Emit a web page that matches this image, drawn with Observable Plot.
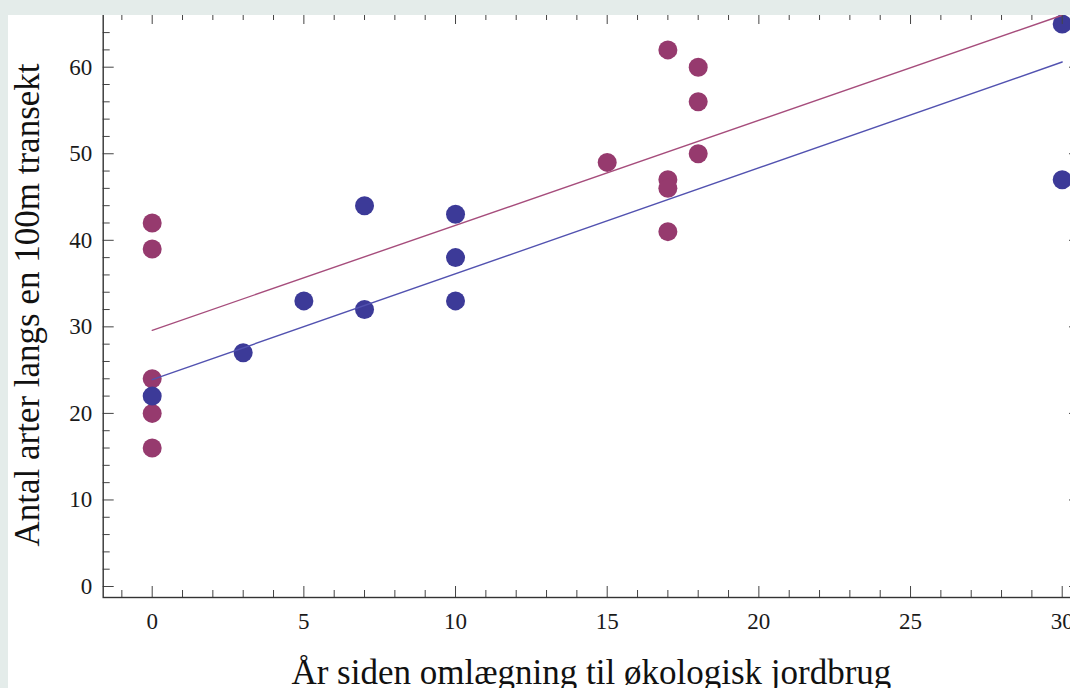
<!DOCTYPE html>
<html>
<head>
<meta charset="utf-8">
<script src="https://cdn.jsdelivr.net/npm/d3@7"></script>
<script src="https://cdn.jsdelivr.net/npm/@observablehq/plot@0.6"></script>
<style>
html, body { margin: 0; padding: 0; background: #e4ecea; overflow: hidden; width: 1070px; height: 688px; }
#wrap { position: relative; width: 1070px; height: 688px; overflow: hidden; }
#white { position: absolute; left: 8px; top: 15px; right: 0; bottom: 0; background: #fff; }
#chart { position: absolute; left: 0; top: 0; }
#bandTop { position: absolute; left: 0; top: 0; width: 1070px; height: 15px; background: #e4ecea; }
</style>
</head>
<body>
<div id="wrap"><div id="white"></div><div id="chart"></div><div id="bandTop"></div></div>
<script>
// Data
const blueYears   = [0, 3, 5, 7, 7, 10, 10, 10, 30, 30];
const blueSpecies = [22, 27, 33, 44, 32, 43, 38, 33, 65, 47];
const redYears    = [0, 0, 0, 0, 0, 15, 17, 17, 17, 17, 18, 18, 18];
const redSpecies  = [42, 39, 24, 20, 16, 49, 62, 47, 46, 41, 60, 56, 50];
const blueLineYears = [0, 30];
const blueLineSpecies = [23.9, 60.6];
const redLineYears = [0, 30];
const redLineSpecies = [29.6, 66.0];
const xMajor = [0, 5, 10, 15, 20, 25, 30];
const yMajor = [0, 10, 20, 30, 40, 50, 60];
const xMinor = d3.range(-1, 32).filter(v => v % 5 !== 0);
const yMinor = d3.range(2, 66, 2).filter(v => v % 10 !== 0);
const xTitle = "År siden omlægning til økologisk jordbrug";
const yTitle = "Antal arter langs en 100m transekt";

const blue = blueYears.map((x, i) => ({x, y: blueSpecies[i]}));
const red = redYears.map((x, i) => ({x, y: redSpecies[i]}));
const blueLine = blueLineYears.map((x, i) => ({x, y: blueLineSpecies[i]}));
const redLine = redLineYears.map((x, i) => ({x, y: redLineSpecies[i]}));

const font = "'Liberation Serif', 'Times New Roman', serif";
const tickColor = "#444";

const chart = Plot.plot({
  width: 1080,
  height: 688,
  marginLeft: 102.7,
  marginRight: 1,
  marginTop: 12,
  marginBottom: 91,
  style: {background: "transparent", fontFamily: font, maxWidth: "none", overflow: "visible"},
  x: {domain: [-1.615, 30.57], axis: null},
  y: {domain: [-1.27, 66.32], axis: null},
  marks: [
    Plot.dot(red, {x: "x", y: "y", r: 9.5, fill: "#963a6e"}),
    Plot.dot(blue, {x: "x", y: "y", r: 9.5, fill: "#3c3a98"}),
    Plot.line(redLine, {x: "x", y: "y", stroke: "#a64d7c", strokeWidth: 1.4}),
    Plot.line(blueLine, {x: "x", y: "y", stroke: "#5252b0", strokeWidth: 1.4}),
    // ticks (inward)
    Plot.axisX(xMajor, {anchor: "bottom", tickSize: -11, fill: "none", stroke: tickColor, label: null}),
    Plot.axisX(xMinor, {anchor: "bottom", tickSize: -7, fill: "none", stroke: tickColor, label: null}),
    Plot.axisX(xMajor, {anchor: "top", tickSize: -11, fill: "none", stroke: tickColor, label: null}),
    Plot.axisX(xMinor, {anchor: "top", tickSize: -7, fill: "none", stroke: tickColor, label: null}),
    Plot.axisY(yMajor, {anchor: "left", tickSize: -11, fill: "none", stroke: tickColor, label: null}),
    Plot.axisY(yMinor, {anchor: "left", tickSize: -7, fill: "none", stroke: tickColor, label: null}),
    Plot.axisY(yMajor, {anchor: "right", tickSize: -11, fill: "none", stroke: tickColor, label: null}),
    Plot.axisY(yMinor, {anchor: "right", tickSize: -7, fill: "none", stroke: tickColor, label: null}),
    // tick labels
    Plot.axisX(xMajor, {anchor: "bottom", tickSize: 0, tickPadding: 15, fontSize: 23, fontFamily: font, fill: "#1a1a1a", label: null}),
    Plot.axisY(yMajor, {anchor: "left", tickSize: 0, tickPadding: 11, fontSize: 23, fontFamily: font, fill: "#1a1a1a", label: null}),
    Plot.frame({stroke: "#333", strokeWidth: 1.4}),
    // axis titles
    Plot.text([yTitle], {frameAnchor: "left", rotate: -90, dx: -64, textAnchor: "middle", lineAnchor: "bottom", fontSize: 35, fontFamily: font, fill: "#111"}),
    Plot.text([xTitle], {frameAnchor: "bottom", dy: 86, textAnchor: "middle", lineAnchor: "bottom", fontSize: 35, fontFamily: font, fill: "#111"})
  ]
});
chart.style.maxWidth = "none";
document.getElementById("chart").appendChild(chart);
</script>
</body>
</html>
